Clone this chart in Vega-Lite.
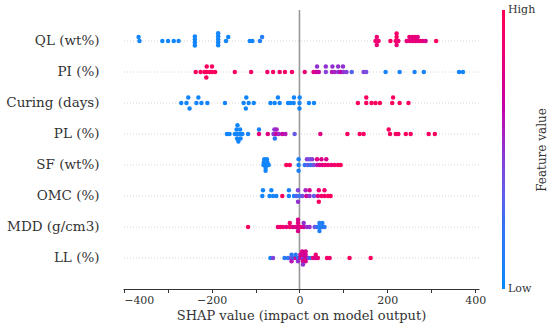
{
  "$schema": "https://vega.github.io/schema/vega-lite/v6.json",
  "autosize": "none",
  "width": 356,
  "height": 279,
  "padding": {"left": 123, "top": 10, "right": 71, "bottom": 42},
  "config": {"font": "DejaVu Serif", "view": {"stroke": null}},
  "datasets": {
    "features": [
      {"feature": "QL (wt%)"}, {"feature": "PI (%)"}, {"feature": "Curing (days)"}, {"feature": "PL (%)"},
      {"feature": "SF (wt%)"}, {"feature": "OMC (%)"}, {"feature": "MDD (g/cm3)"}, {"feature": "LL (%)"}
    ],
    "points": [
      {"feature": "QL (wt%)", "shap": -366, "lane": 1.3, "value": 0.05},
      {"feature": "QL (wt%)", "shap": -364, "lane": 0, "value": 0.05},
      {"feature": "QL (wt%)", "shap": -312, "lane": 0, "value": 0.05},
      {"feature": "QL (wt%)", "shap": -299, "lane": 0, "value": 0.05},
      {"feature": "QL (wt%)", "shap": -286, "lane": 0, "value": 0.05},
      {"feature": "QL (wt%)", "shap": -275, "lane": 0, "value": 0.05},
      {"feature": "QL (wt%)", "shap": -238, "lane": 1.5, "value": 0.05},
      {"feature": "QL (wt%)", "shap": -238, "lane": 0.5, "value": 0.05},
      {"feature": "QL (wt%)", "shap": -238, "lane": -0.5, "value": 0.05},
      {"feature": "QL (wt%)", "shap": -238, "lane": -1.5, "value": 0.05},
      {"feature": "QL (wt%)", "shap": -185, "lane": 2.6, "value": 0.05},
      {"feature": "QL (wt%)", "shap": -185, "lane": 1.6, "value": 0.05},
      {"feature": "QL (wt%)", "shap": -185, "lane": 0.6, "value": 0.05},
      {"feature": "QL (wt%)", "shap": -185, "lane": -0.4, "value": 0.05},
      {"feature": "QL (wt%)", "shap": -185, "lane": -1.4, "value": 0.05},
      {"feature": "QL (wt%)", "shap": -167, "lane": 0, "value": 0.05},
      {"feature": "QL (wt%)", "shap": -162, "lane": 1.3, "value": 0.05},
      {"feature": "QL (wt%)", "shap": -113, "lane": 0, "value": 0.05},
      {"feature": "QL (wt%)", "shap": -107, "lane": 0, "value": 0.05},
      {"feature": "QL (wt%)", "shap": -90, "lane": 0, "value": 0.1},
      {"feature": "QL (wt%)", "shap": -85, "lane": 1.3, "value": 0.12},
      {"feature": "QL (wt%)", "shap": 176, "lane": 1.3, "value": 0.85},
      {"feature": "QL (wt%)", "shap": 173, "lane": 0, "value": 0.9},
      {"feature": "QL (wt%)", "shap": 180, "lane": 0, "value": 0.85},
      {"feature": "QL (wt%)", "shap": 176, "lane": -1.3, "value": 0.85},
      {"feature": "QL (wt%)", "shap": 207, "lane": 0, "value": 0.95},
      {"feature": "QL (wt%)", "shap": 221, "lane": 2.5, "value": 0.9},
      {"feature": "QL (wt%)", "shap": 221, "lane": 1.3, "value": 0.95},
      {"feature": "QL (wt%)", "shap": 219, "lane": 0, "value": 0.9},
      {"feature": "QL (wt%)", "shap": 225, "lane": 0, "value": 0.85},
      {"feature": "QL (wt%)", "shap": 221, "lane": -1.3, "value": 0.85},
      {"feature": "QL (wt%)", "shap": 244, "lane": 0, "value": 0.8},
      {"feature": "QL (wt%)", "shap": 251, "lane": 0, "value": 0.85},
      {"feature": "QL (wt%)", "shap": 257, "lane": 0, "value": 0.8},
      {"feature": "QL (wt%)", "shap": 263, "lane": 0, "value": 0.85},
      {"feature": "QL (wt%)", "shap": 269, "lane": 0, "value": 0.8},
      {"feature": "QL (wt%)", "shap": 275, "lane": 0, "value": 0.85},
      {"feature": "QL (wt%)", "shap": 281, "lane": 0, "value": 0.8},
      {"feature": "QL (wt%)", "shap": 287, "lane": 0, "value": 0.75},
      {"feature": "QL (wt%)", "shap": 250, "lane": 1.3, "value": 0.85},
      {"feature": "QL (wt%)", "shap": 257, "lane": 1.3, "value": 0.8},
      {"feature": "QL (wt%)", "shap": 263, "lane": 1.3, "value": 0.85},
      {"feature": "QL (wt%)", "shap": 269, "lane": 1.3, "value": 0.8},
      {"feature": "QL (wt%)", "shap": 311, "lane": 0, "value": 0.95},

      {"feature": "PI (%)", "shap": -236, "lane": 0, "value": 0.95},
      {"feature": "PI (%)", "shap": -225, "lane": 0, "value": 0.95},
      {"feature": "PI (%)", "shap": -216, "lane": 0, "value": 0.95},
      {"feature": "PI (%)", "shap": -211, "lane": 0, "value": 0.95},
      {"feature": "PI (%)", "shap": -204, "lane": 0, "value": 0.95},
      {"feature": "PI (%)", "shap": -199, "lane": 0, "value": 0.95},
      {"feature": "PI (%)", "shap": -192, "lane": 0, "value": 0.95},
      {"feature": "PI (%)", "shap": -211, "lane": 1.8, "value": 0.95},
      {"feature": "PI (%)", "shap": -199, "lane": 1.8, "value": 0.95},
      {"feature": "PI (%)", "shap": -212, "lane": -1.8, "value": 0.95},
      {"feature": "PI (%)", "shap": -147, "lane": 0, "value": 0.93},
      {"feature": "PI (%)", "shap": -110, "lane": 0, "value": 0.93},
      {"feature": "PI (%)", "shap": -73, "lane": 0, "value": 0.9},
      {"feature": "PI (%)", "shap": -60, "lane": 0, "value": 0.9},
      {"feature": "PI (%)", "shap": -45, "lane": 0, "value": 0.88},
      {"feature": "PI (%)", "shap": -33, "lane": 0, "value": 0.9},
      {"feature": "PI (%)", "shap": -17, "lane": 0, "value": 0.9},
      {"feature": "PI (%)", "shap": 12, "lane": 0, "value": 0.85},
      {"feature": "PI (%)", "shap": 32, "lane": 0, "value": 0.8},
      {"feature": "PI (%)", "shap": 38, "lane": 0, "value": 0.7},
      {"feature": "PI (%)", "shap": 44, "lane": 0, "value": 0.65},
      {"feature": "PI (%)", "shap": 60, "lane": 0, "value": 0.45},
      {"feature": "PI (%)", "shap": 74, "lane": 0, "value": 0.6},
      {"feature": "PI (%)", "shap": 80, "lane": 0, "value": 0.55},
      {"feature": "PI (%)", "shap": 88, "lane": 0, "value": 0.5},
      {"feature": "PI (%)", "shap": 94, "lane": 0, "value": 0.65},
      {"feature": "PI (%)", "shap": 100, "lane": 0, "value": 0.5},
      {"feature": "PI (%)", "shap": 107, "lane": 0, "value": 0.45},
      {"feature": "PI (%)", "shap": 119, "lane": 0, "value": 0.3},
      {"feature": "PI (%)", "shap": 146, "lane": 0, "value": 0.45},
      {"feature": "PI (%)", "shap": 152, "lane": 0, "value": 0.4},
      {"feature": "PI (%)", "shap": 196, "lane": 0, "value": 0.08},
      {"feature": "PI (%)", "shap": 228, "lane": 0, "value": 0.08},
      {"feature": "PI (%)", "shap": 262, "lane": 0, "value": 0.08},
      {"feature": "PI (%)", "shap": 283, "lane": 0, "value": 0.08},
      {"feature": "PI (%)", "shap": 363, "lane": 0, "value": 0.05},
      {"feature": "PI (%)", "shap": 372, "lane": 0, "value": 0.05},
      {"feature": "PI (%)", "shap": 40, "lane": 1.8, "value": 0.5},
      {"feature": "PI (%)", "shap": 60, "lane": 1.8, "value": 0.5},
      {"feature": "PI (%)", "shap": 75, "lane": 1.8, "value": 0.5},
      {"feature": "PI (%)", "shap": 88, "lane": 1.8, "value": 0.5},
      {"feature": "PI (%)", "shap": 99, "lane": 1.8, "value": 0.5},

      {"feature": "Curing (days)", "shap": -269, "lane": 0, "value": 0.05},
      {"feature": "Curing (days)", "shap": -257, "lane": 0, "value": 0.05},
      {"feature": "Curing (days)", "shap": -234.5, "lane": 0, "value": 0.05},
      {"feature": "Curing (days)", "shap": -223, "lane": 0, "value": 0.05},
      {"feature": "Curing (days)", "shap": -209.5, "lane": 0, "value": 0.05},
      {"feature": "Curing (days)", "shap": -169.5, "lane": 0, "value": 0.05},
      {"feature": "Curing (days)", "shap": -127, "lane": 0, "value": 0.05},
      {"feature": "Curing (days)", "shap": -115.6, "lane": 0, "value": 0.05},
      {"feature": "Curing (days)", "shap": -104, "lane": 0, "value": 0.05},
      {"feature": "Curing (days)", "shap": -66, "lane": 0, "value": 0.05},
      {"feature": "Curing (days)", "shap": -56.4, "lane": 0, "value": 0.05},
      {"feature": "Curing (days)", "shap": -45, "lane": 0, "value": 0.05},
      {"feature": "Curing (days)", "shap": -26, "lane": 0, "value": 0.05},
      {"feature": "Curing (days)", "shap": -20.7, "lane": 0, "value": 0.05},
      {"feature": "Curing (days)", "shap": -13.2, "lane": 0, "value": 0.05},
      {"feature": "Curing (days)", "shap": 0, "lane": 0, "value": 0.05},
      {"feature": "Curing (days)", "shap": 21.6, "lane": 0, "value": 0.05},
      {"feature": "Curing (days)", "shap": 33, "lane": 0, "value": 0.05},
      {"feature": "Curing (days)", "shap": -253, "lane": 1.8, "value": 0.05},
      {"feature": "Curing (days)", "shap": -230, "lane": 1.8, "value": 0.05},
      {"feature": "Curing (days)", "shap": -121, "lane": 1.8, "value": 0.05},
      {"feature": "Curing (days)", "shap": -49, "lane": 1.8, "value": 0.05},
      {"feature": "Curing (days)", "shap": -12.5, "lane": 1.8, "value": 0.05},
      {"feature": "Curing (days)", "shap": 0.5, "lane": 1.8, "value": 0.05},
      {"feature": "Curing (days)", "shap": -250, "lane": -1.8, "value": 0.05},
      {"feature": "Curing (days)", "shap": -122, "lane": -1.8, "value": 0.05},
      {"feature": "Curing (days)", "shap": 0, "lane": -1.8, "value": 0.05},
      {"feature": "Curing (days)", "shap": 133, "lane": 0, "value": 0.95},
      {"feature": "Curing (days)", "shap": 152, "lane": 0, "value": 0.95},
      {"feature": "Curing (days)", "shap": 164, "lane": 0, "value": 0.95},
      {"feature": "Curing (days)", "shap": 173, "lane": 0, "value": 0.95},
      {"feature": "Curing (days)", "shap": 183, "lane": 0, "value": 0.95},
      {"feature": "Curing (days)", "shap": 211, "lane": 0, "value": 0.95},
      {"feature": "Curing (days)", "shap": 228, "lane": 0, "value": 0.95},
      {"feature": "Curing (days)", "shap": 248, "lane": 0, "value": 0.95},
      {"feature": "Curing (days)", "shap": 152, "lane": 1.8, "value": 0.95},
      {"feature": "Curing (days)", "shap": 213, "lane": 1.8, "value": 0.95},

      {"feature": "PL (%)", "shap": -165, "lane": 0, "value": 0.05},
      {"feature": "PL (%)", "shap": -159, "lane": 0, "value": 0.05},
      {"feature": "PL (%)", "shap": -147, "lane": 0, "value": 0.05},
      {"feature": "PL (%)", "shap": -142, "lane": 0, "value": 0.05},
      {"feature": "PL (%)", "shap": -136, "lane": 0, "value": 0.05},
      {"feature": "PL (%)", "shap": -130, "lane": 0, "value": 0.05},
      {"feature": "PL (%)", "shap": -117, "lane": 0, "value": 0.05},
      {"feature": "PL (%)", "shap": -143, "lane": 1.5, "value": 0.05},
      {"feature": "PL (%)", "shap": -135, "lane": 1.5, "value": 0.05},
      {"feature": "PL (%)", "shap": -141, "lane": 2.9, "value": 0.05},
      {"feature": "PL (%)", "shap": -142, "lane": -1.5, "value": 0.05},
      {"feature": "PL (%)", "shap": -134, "lane": -1.5, "value": 0.05},
      {"feature": "PL (%)", "shap": -139, "lane": -2.5, "value": 0.05},
      {"feature": "PL (%)", "shap": -92, "lane": 1.5, "value": 0.08},
      {"feature": "PL (%)", "shap": -92, "lane": 0, "value": 0.85},
      {"feature": "PL (%)", "shap": -72, "lane": 0, "value": 0.8},
      {"feature": "PL (%)", "shap": -59, "lane": 0, "value": 0.5},
      {"feature": "PL (%)", "shap": -57, "lane": 1.5, "value": 0.5},
      {"feature": "PL (%)", "shap": -52, "lane": 1.5, "value": 0.55},
      {"feature": "PL (%)", "shap": -53, "lane": 0, "value": 0.7},
      {"feature": "PL (%)", "shap": -47, "lane": 0, "value": 0.55},
      {"feature": "PL (%)", "shap": -56, "lane": -1.5, "value": 0.15},
      {"feature": "PL (%)", "shap": -39, "lane": 0, "value": 0.65},
      {"feature": "PL (%)", "shap": -32, "lane": 0, "value": 0.6},
      {"feature": "PL (%)", "shap": -11, "lane": 0, "value": 0.35},
      {"feature": "PL (%)", "shap": 47.5, "lane": 0, "value": 0.8},
      {"feature": "PL (%)", "shap": 109, "lane": 0, "value": 0.95},
      {"feature": "PL (%)", "shap": 137, "lane": 0, "value": 0.95},
      {"feature": "PL (%)", "shap": 146, "lane": 0, "value": 0.93},
      {"feature": "PL (%)", "shap": 203, "lane": 1.5, "value": 0.95},
      {"feature": "PL (%)", "shap": 206, "lane": 0, "value": 0.95},
      {"feature": "PL (%)", "shap": 219, "lane": 0, "value": 0.95},
      {"feature": "PL (%)", "shap": 225, "lane": 0, "value": 0.9},
      {"feature": "PL (%)", "shap": 242, "lane": 0, "value": 0.95},
      {"feature": "PL (%)", "shap": 253, "lane": 0, "value": 0.93},
      {"feature": "PL (%)", "shap": 294, "lane": 0, "value": 0.95},
      {"feature": "PL (%)", "shap": 308, "lane": 0, "value": 0.95},

      {"feature": "SF (wt%)", "shap": -80, "lane": 1.9, "value": 0.05},
      {"feature": "SF (wt%)", "shap": -74, "lane": 1.9, "value": 0.05},
      {"feature": "SF (wt%)", "shap": -81, "lane": 0.9, "value": 0.05},
      {"feature": "SF (wt%)", "shap": -73, "lane": 0.9, "value": 0.05},
      {"feature": "SF (wt%)", "shap": -82, "lane": 0, "value": 0.05},
      {"feature": "SF (wt%)", "shap": -76, "lane": 0, "value": 0.05},
      {"feature": "SF (wt%)", "shap": -70, "lane": 0, "value": 0.05},
      {"feature": "SF (wt%)", "shap": -77, "lane": -0.9, "value": 0.05},
      {"feature": "SF (wt%)", "shap": -77, "lane": -1.9, "value": 0.05},
      {"feature": "SF (wt%)", "shap": -30, "lane": 0, "value": 0.95},
      {"feature": "SF (wt%)", "shap": -22, "lane": 0, "value": 0.95},
      {"feature": "SF (wt%)", "shap": -2, "lane": 1.9, "value": 0.08},
      {"feature": "SF (wt%)", "shap": -2, "lane": 0, "value": 0.08},
      {"feature": "SF (wt%)", "shap": -2, "lane": -1.9, "value": 0.08},
      {"feature": "SF (wt%)", "shap": 12, "lane": 0, "value": 0.2},
      {"feature": "SF (wt%)", "shap": 19, "lane": 0, "value": 0.35},
      {"feature": "SF (wt%)", "shap": 25.5, "lane": 0, "value": 0.2},
      {"feature": "SF (wt%)", "shap": 32, "lane": 0, "value": 0.4},
      {"feature": "SF (wt%)", "shap": 40, "lane": 0, "value": 0.6},
      {"feature": "SF (wt%)", "shap": 46, "lane": 0, "value": 0.75},
      {"feature": "SF (wt%)", "shap": 52, "lane": 0, "value": 0.8},
      {"feature": "SF (wt%)", "shap": 58, "lane": 0, "value": 0.85},
      {"feature": "SF (wt%)", "shap": 65, "lane": 0, "value": 0.85},
      {"feature": "SF (wt%)", "shap": 72.6, "lane": 0, "value": 0.85},
      {"feature": "SF (wt%)", "shap": 80, "lane": 0, "value": 0.9},
      {"feature": "SF (wt%)", "shap": 87.6, "lane": 0, "value": 0.95},
      {"feature": "SF (wt%)", "shap": 93.7, "lane": 0, "value": 0.95},
      {"feature": "SF (wt%)", "shap": 17, "lane": 1.9, "value": 0.45},
      {"feature": "SF (wt%)", "shap": 23, "lane": 1.9, "value": 0.4},
      {"feature": "SF (wt%)", "shap": 29, "lane": 1.9, "value": 0.45},
      {"feature": "SF (wt%)", "shap": 40, "lane": 1.9, "value": 0.8},
      {"feature": "SF (wt%)", "shap": 50, "lane": 1.9, "value": 0.75},
      {"feature": "SF (wt%)", "shap": 61, "lane": 1.9, "value": 0.75},

      {"feature": "OMC (%)", "shap": -84.5, "lane": 0, "value": 0.05},
      {"feature": "OMC (%)", "shap": -68, "lane": 0, "value": 0.05},
      {"feature": "OMC (%)", "shap": -60, "lane": 0, "value": 0.05},
      {"feature": "OMC (%)", "shap": -52.6, "lane": 0, "value": 0.08},
      {"feature": "OMC (%)", "shap": -39, "lane": 0, "value": 0.95},
      {"feature": "OMC (%)", "shap": -24, "lane": 0, "value": 0.08},
      {"feature": "OMC (%)", "shap": -12.5, "lane": 0, "value": 0.1},
      {"feature": "OMC (%)", "shap": -7, "lane": 0, "value": 0.3},
      {"feature": "OMC (%)", "shap": 0.4, "lane": 0, "value": 0.2},
      {"feature": "OMC (%)", "shap": 6.5, "lane": 0, "value": 0.4},
      {"feature": "OMC (%)", "shap": 15.6, "lane": 0, "value": 0.7},
      {"feature": "OMC (%)", "shap": 23, "lane": 0, "value": 0.5},
      {"feature": "OMC (%)", "shap": 33, "lane": 0, "value": 0.35},
      {"feature": "OMC (%)", "shap": 42, "lane": 0, "value": 0.8},
      {"feature": "OMC (%)", "shap": 50, "lane": 0, "value": 0.9},
      {"feature": "OMC (%)", "shap": 57, "lane": 0, "value": 0.9},
      {"feature": "OMC (%)", "shap": 65, "lane": 0, "value": 0.95},
      {"feature": "OMC (%)", "shap": 71, "lane": 0, "value": 0.95},
      {"feature": "OMC (%)", "shap": -83, "lane": 1.9, "value": 0.05},
      {"feature": "OMC (%)", "shap": -64, "lane": 1.9, "value": 0.05},
      {"feature": "OMC (%)", "shap": -24, "lane": 1.9, "value": 0.08},
      {"feature": "OMC (%)", "shap": -3.3, "lane": 1.9, "value": 0.45},
      {"feature": "OMC (%)", "shap": 14, "lane": 1.9, "value": 0.55},
      {"feature": "OMC (%)", "shap": 23, "lane": 1.9, "value": 0.75},
      {"feature": "OMC (%)", "shap": 44, "lane": 1.9, "value": 0.85},
      {"feature": "OMC (%)", "shap": 57, "lane": 1.9, "value": 0.9},
      {"feature": "OMC (%)", "shap": -3.3, "lane": -1.9, "value": 0.5},
      {"feature": "OMC (%)", "shap": 44, "lane": -1.9, "value": 0.95},

      {"feature": "MDD (g/cm3)", "shap": -117, "lane": 0, "value": 0.95},
      {"feature": "MDD (g/cm3)", "shap": -49, "lane": 0, "value": 0.85},
      {"feature": "MDD (g/cm3)", "shap": -43.5, "lane": 0, "value": 0.9},
      {"feature": "MDD (g/cm3)", "shap": -37.5, "lane": 0, "value": 0.9},
      {"feature": "MDD (g/cm3)", "shap": -30, "lane": 0, "value": 0.8},
      {"feature": "MDD (g/cm3)", "shap": -22, "lane": 0, "value": 0.9},
      {"feature": "MDD (g/cm3)", "shap": -15, "lane": 0, "value": 0.75},
      {"feature": "MDD (g/cm3)", "shap": -8.6, "lane": 0, "value": 0.8},
      {"feature": "MDD (g/cm3)", "shap": -3.3, "lane": 0, "value": 0.75},
      {"feature": "MDD (g/cm3)", "shap": 2.7, "lane": 0, "value": 0.85},
      {"feature": "MDD (g/cm3)", "shap": 9.6, "lane": 0, "value": 0.7},
      {"feature": "MDD (g/cm3)", "shap": 17, "lane": 0, "value": 0.5},
      {"feature": "MDD (g/cm3)", "shap": 23, "lane": 0, "value": 0.5},
      {"feature": "MDD (g/cm3)", "shap": 34.6, "lane": 0, "value": 0.4},
      {"feature": "MDD (g/cm3)", "shap": 40, "lane": 0, "value": 0.2},
      {"feature": "MDD (g/cm3)", "shap": 46, "lane": 0, "value": 0.1},
      {"feature": "MDD (g/cm3)", "shap": 52, "lane": 0, "value": 0.1},
      {"feature": "MDD (g/cm3)", "shap": 57, "lane": 0, "value": 0.15},
      {"feature": "MDD (g/cm3)", "shap": -22, "lane": 1.3, "value": 0.9},
      {"feature": "MDD (g/cm3)", "shap": -3.3, "lane": 1.3, "value": 0.8},
      {"feature": "MDD (g/cm3)", "shap": 9.6, "lane": 1.3, "value": 0.5},
      {"feature": "MDD (g/cm3)", "shap": 45.5, "lane": 1.3, "value": 0.1},
      {"feature": "MDD (g/cm3)", "shap": 52, "lane": 1.3, "value": 0.1},
      {"feature": "MDD (g/cm3)", "shap": -3.3, "lane": 2.4, "value": 0.75},
      {"feature": "MDD (g/cm3)", "shap": -3.3, "lane": -1.3, "value": 0.75},
      {"feature": "MDD (g/cm3)", "shap": 45.5, "lane": -1.3, "value": 0.1},

      {"feature": "LL (%)", "shap": -66, "lane": 0, "value": 0.1},
      {"feature": "LL (%)", "shap": -60, "lane": 0, "value": 0.45},
      {"feature": "LL (%)", "shap": -34, "lane": 0, "value": 0.15},
      {"feature": "LL (%)", "shap": -26, "lane": 0, "value": 0.2},
      {"feature": "LL (%)", "shap": -18.5, "lane": 0, "value": 0.45},
      {"feature": "LL (%)", "shap": -13, "lane": 0, "value": 0.2},
      {"feature": "LL (%)", "shap": -8.6, "lane": 0, "value": 0.7},
      {"feature": "LL (%)", "shap": -3.3, "lane": 0, "value": 0.2},
      {"feature": "LL (%)", "shap": 2, "lane": 0, "value": 0.75},
      {"feature": "LL (%)", "shap": 8, "lane": 0, "value": 0.5},
      {"feature": "LL (%)", "shap": 14, "lane": 0, "value": 0.75},
      {"feature": "LL (%)", "shap": 19.4, "lane": 0, "value": 0.5},
      {"feature": "LL (%)", "shap": 24.7, "lane": 0, "value": 0.2},
      {"feature": "LL (%)", "shap": 30.8, "lane": 0, "value": 0.85},
      {"feature": "LL (%)", "shap": 37, "lane": 0, "value": 0.7},
      {"feature": "LL (%)", "shap": 42, "lane": 0, "value": 0.85},
      {"feature": "LL (%)", "shap": 62.6, "lane": 0, "value": 0.9},
      {"feature": "LL (%)", "shap": 68.7, "lane": 0, "value": 0.9},
      {"feature": "LL (%)", "shap": 114, "lane": 0, "value": 0.95},
      {"feature": "LL (%)", "shap": 162, "lane": 0, "value": 0.95},
      {"feature": "LL (%)", "shap": -18, "lane": 1.1, "value": 0.2},
      {"feature": "LL (%)", "shap": -8.6, "lane": 1.1, "value": 0.15},
      {"feature": "LL (%)", "shap": 2, "lane": 1.1, "value": 0.7},
      {"feature": "LL (%)", "shap": 8, "lane": 1.1, "value": 0.75},
      {"feature": "LL (%)", "shap": 14, "lane": 1.1, "value": 0.7},
      {"feature": "LL (%)", "shap": 37, "lane": 1.1, "value": 0.85},
      {"feature": "LL (%)", "shap": 6, "lane": 2.2, "value": 0.75},
      {"feature": "LL (%)", "shap": 14, "lane": 2.2, "value": 0.75},
      {"feature": "LL (%)", "shap": -18, "lane": -1.1, "value": 0.6},
      {"feature": "LL (%)", "shap": -3.3, "lane": -1.1, "value": 0.5},
      {"feature": "LL (%)", "shap": 8, "lane": -1.1, "value": 0.75},
      {"feature": "LL (%)", "shap": 14, "lane": -1.1, "value": 0.75},
      {"feature": "LL (%)", "shap": 8, "lane": -2.2, "value": 0.5}
    ]
  },
  "resolve": {"axis": {"y": "independent"}},
  "layer": [
    {
      "data": {"name": "features"},
      "mark": {"type": "rule", "color": "#cccccc", "strokeWidth": 0.8, "strokeDash": [1, 2]},
      "encoding": {
        "y": {
          "field": "feature", "type": "nominal", "bandPosition": 0.5,
          "sort": ["QL (wt%)", "PI (%)", "Curing (days)", "PL (%)", "SF (wt%)", "OMC (%)", "MDD (g/cm3)", "LL (%)"],
          "scale": {"paddingInner": 0, "paddingOuter": 0.5},
          "axis": {"title": null, "orient": "left", "domain": false, "ticks": false, "labelPadding": 24, "labelFontSize": 13.5, "labelColor": "#333333", "labelFont": "DejaVu Serif"}
        }
      }
    },
    {
      "data": {"name": "features"},
      "mark": {"type": "rule", "strokeOpacity": 0},
      "encoding": {
        "y": {
          "field": "feature", "type": "nominal", "bandPosition": 0.5,
          "sort": ["QL (wt%)", "PI (%)", "Curing (days)", "PL (%)", "SF (wt%)", "OMC (%)", "MDD (g/cm3)", "LL (%)"],
          "axis": {
            "orient": "right", "title": "Feature value", "labels": false, "ticks": false, "domain": false, "grid": false,
            "titleAngle": 270, "titleX": 62, "titleY": 139.5, "titleAlign": "center", "titleBaseline": "middle",
            "titleFontSize": 12, "titleFontWeight": "normal", "titleColor": "#333333", "titleFont": "DejaVu Serif"
          }
        }
      }
    },
    {
      "data": {"values": [{"ref": "zero"}]},
      "mark": {"type": "rule", "color": "#999999", "strokeWidth": 1.6},
      "encoding": {"x": {"datum": 0, "type": "quantitative"}}
    },
    {
      "data": {"name": "points"},
      "mark": {"type": "circle", "size": 20, "opacity": 1},
      "encoding": {
        "x": {
          "field": "shap", "type": "quantitative",
          "scale": {"domain": [-401.5, 408.5], "nice": false, "zero": false},
          "title": "SHAP value (impact on model output)",
          "axis": {
            "values": [-400, -300, -200, -100, 0, 100, 200, 300, 400],
            "labelExpr": "replace(datum.label, '-', '−')",
            "grid": false, "domainColor": "#333333", "domainWidth": 1,
            "tickColor": "#333333", "tickSize": 3.5, "labelFontSize": 11, "labelColor": "#333333",
            "labelFont": "DejaVu Serif", "labelPadding": 2,
            "titleFontSize": 13, "titleFontWeight": "normal", "titleColor": "#333333", "titleFont": "DejaVu Serif", "titlePadding": 4
          }
        },
        "y": {
          "field": "feature", "type": "nominal", "axis": null,
          "sort": ["QL (wt%)", "PI (%)", "Curing (days)", "PL (%)", "SF (wt%)", "OMC (%)", "MDD (g/cm3)", "LL (%)"]
        },
        "yOffset": {"field": "lane", "type": "quantitative", "scale": {"domain": [5.17, -5.17]}},
        "color": {
          "field": "value", "type": "quantitative",
          "scale": {"domain": [0, 1], "range": ["#008bfb", "#3a6df0", "#9030d0", "#d8008a", "#ff0051"]},
          "legend": {
            "orient": "none", "legendX": 379, "legendY": 0, "direction": "vertical",
            "gradientLength": 279, "gradientThickness": 3, "gradientStrokeWidth": 0,
            "values": [0.001, 0.999], "labelExpr": "datum.value > 0.5 ? 'High' : 'Low'",
            "labelFontSize": 11, "labelColor": "#333333", "labelFont": "DejaVu Serif", "labelOffset": 3,
            "title": null
          }
        }
      }
    }
  ]
}
